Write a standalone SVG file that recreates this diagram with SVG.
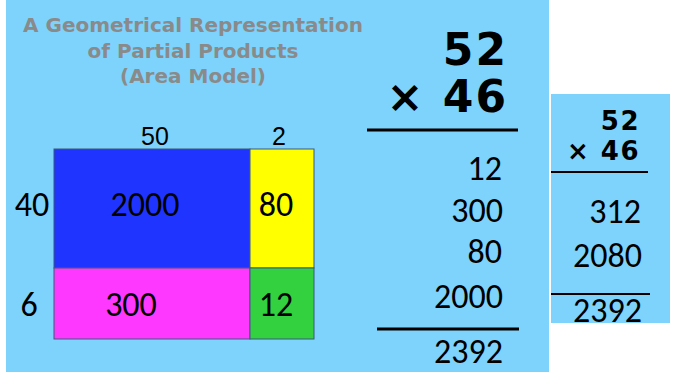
<svg xmlns="http://www.w3.org/2000/svg" width="673" height="372" viewBox="0 0 673 372">
<style>
.bg{fill:#7dd3fb}
.title{font-family:"DejaVu Sans",Verdana,sans-serif;font-weight:bold;font-size:20px;fill:#8a8a8a;text-anchor:middle}
.num{font-family:Carlito,Lato,"Open Sans",sans-serif;font-size:34px;fill:#000}
.hdr{font-family:"Liberation Sans",Arial,sans-serif;font-size:25px;fill:#000;text-anchor:middle}
.big{font-family:"DejaVu Sans",Verdana,sans-serif;font-weight:bold;fill:#000;text-anchor:end}
.cell{stroke:#3a5a7a;stroke-width:1}
.mid{text-anchor:middle}
.end{text-anchor:end}
.rule{stroke:#000}
</style>
<rect class="bg" x="6" y="0" width="543" height="372"/>
<rect class="bg" x="551" y="94" width="119" height="229"/>
<g id="title">
<text class="title" x="193" y="32">A Geometrical Representation</text>
<text class="title" x="193" y="58">of Partial Products</text>
<text class="title" x="193" y="83">(Area Model)</text>
</g>
<g id="area-model">
<text class="hdr" x="155" y="145">50</text>
<text class="hdr" x="279" y="145">2</text>
<text class="num mid" x="32" y="216">40</text>
<text class="num mid" x="29" y="316">6</text>
<g id="cell-2000"><rect class="cell" x="54" y="149" width="196" height="119" fill="#1f35ff"/><text class="num mid" x="145" y="216">2000</text></g>
<g id="cell-80"><rect class="cell" x="250" y="149" width="64" height="119" fill="#ffff00"/><text class="num mid" x="276" y="216">80</text></g>
<g id="cell-300"><rect class="cell" x="54" y="268" width="196" height="71" fill="#ff38ff"/><text class="num mid" x="131" y="316">300</text></g>
<g id="cell-12"><rect class="cell" x="250" y="268" width="64" height="71" fill="#33d03f"/><text class="num mid" x="276" y="316">12</text></g>
</g>
<g id="partial-products">
<text class="big" x="508" y="65" font-size="44" letter-spacing="2">52</text>
<text class="big" x="508" y="112" font-size="44" letter-spacing="2">× 46</text>
<line class="rule" x1="367" y1="130" x2="518" y2="130" stroke-width="3"/>
<text class="num end" x="502" y="180">12</text>
<text class="num end" x="503" y="222">300</text>
<text class="num end" x="502" y="263">80</text>
<text class="num end" x="503" y="308">2000</text>
<line class="rule" x1="377" y1="329" x2="519" y2="329" stroke-width="3"/>
<text class="num end" x="503" y="363">2392</text>
</g>
<g id="standard-algorithm">
<text class="big" x="640" y="130" font-size="26" letter-spacing="1.5">52</text>
<text class="big" x="640" y="160" font-size="26" letter-spacing="1.5">× 46</text>
<line class="rule" x1="551" y1="172" x2="648" y2="172" stroke-width="2"/>
<text class="num end" x="641" y="223">312</text>
<text class="num end" x="642" y="267">2080</text>
<line class="rule" x1="551" y1="294" x2="650" y2="294" stroke-width="2"/>
<text class="num end" x="642" y="322">2392</text>
</g>
</svg>
